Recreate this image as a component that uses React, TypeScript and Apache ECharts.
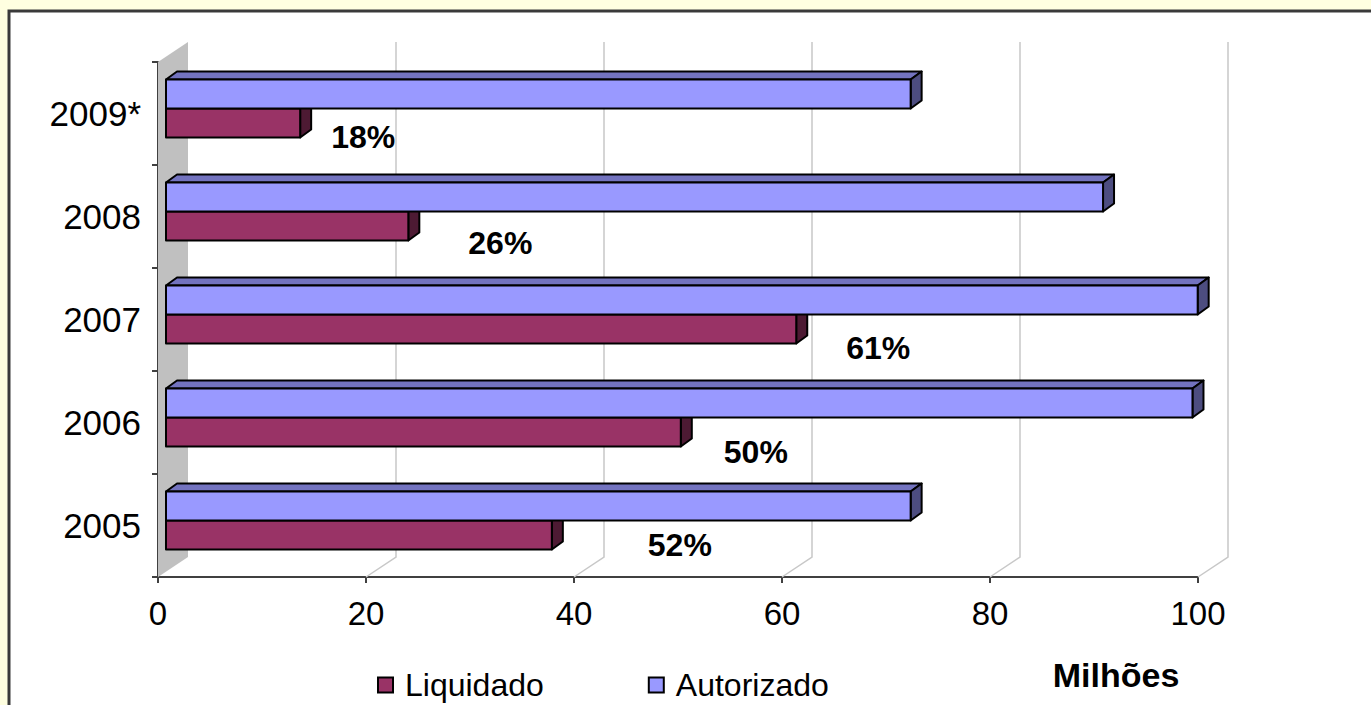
import React, { useEffect, useRef } from "react";
import * as echarts from "echarts";

const categories = ["2005", "2006", "2007", "2008", "2009*"];
const autorizado = [71.6, 98.7, 99.2, 90.1, 71.6];
const liquidado = [37.1, 49.5, 60.6, 23.3, 12.9];
const percentLabels = ["52%", "50%", "61%", "26%", "18%"];
const xTicks = [0, 20, 40, 60, 80, 100];

// styling / geometry (pixels)
const labelOffsets = [
  [128, 19.5],
  [75, 29.5],
  [82, 28.5],
  [92, 26.5],
  [63, 23.5],
];
const BAR_SHIFT = 8;
const TOP_DX = 11;
const TOP_DY = -8;
const WALL_DX = 30;
const WALL_DY = -20;
const FONT = "'Liberation Sans', Arial, sans-serif";

function barRenderer(kind: "aut" | "liq") {
  return (params: any, api: any) => {
    const cat = api.value(1);
    const v = api.value(0);
    const p0 = api.coord([0, cat]);
    const p1 = api.coord([v, cat]);
    const yc = p0[1];
    const x0 = p0[0] + BAR_SHIFT;
    const x1 = p1[0] + BAR_SHIFT;
    const top = kind === "aut" ? yc - 34 : yc - 5;
    const bot = kind === "aut" ? yc - 5 : yc + 24;
    const front = kind === "aut" ? "#9999FF" : "#993366";
    const topC = kind === "aut" ? "#7373BF" : "#73264D";
    const sideC = kind === "aut" ? "#4D4D80" : "#4D1A33";
    const stroke = { stroke: "#000", lineWidth: 2, lineJoin: "round" };
    const children: any[] = [
      {
        type: "polygon",
        shape: { points: [[x0, top], [x0 + TOP_DX, top + TOP_DY], [x1 + TOP_DX, top + TOP_DY], [x1, top]] },
        style: { fill: topC, ...stroke },
      },
      {
        type: "polygon",
        shape: { points: [[x1, top], [x1 + TOP_DX, top + TOP_DY], [x1 + TOP_DX, bot + TOP_DY], [x1, bot]] },
        style: { fill: sideC, ...stroke },
      },
      {
        type: "rect",
        shape: { x: x0, y: top, width: x1 - x0, height: bot - top },
        style: { fill: front, ...stroke },
      },
    ];
    if (kind === "liq") {
      const i = params.dataIndex;
      children.push({
        type: "text",
        x: x1 + labelOffsets[i][0],
        y: yc + labelOffsets[i][1],
        style: {
          text: percentLabels[i],
          fill: "#000",
          font: `bold 32px ${FONT}`,
          align: "center",
          verticalAlign: "middle",
        },
      });
    }
    return { type: "group", children };
  };
}

function gridRenderer(params: any, api: any) {
  const cs = params.coordSys;
  const v = api.value(0);
  const x = api.coord([v, 0])[0];
  const floorY = cs.y + cs.height;
  const topY = cs.y;
  if (v === 0) {
    return {
      type: "polygon",
      shape: {
        points: [
          [x, topY],
          [x + WALL_DX, topY + WALL_DY],
          [x + WALL_DX, floorY + WALL_DY],
          [x, floorY],
        ],
      },
      style: { fill: "#C0C0C0", stroke: "none" },
    };
  }
  return {
    type: "polyline",
    shape: {
      points: [
        [x, floorY],
        [x + WALL_DX, floorY + WALL_DY],
        [x + WALL_DX, topY + WALL_DY],
      ],
    },
    style: { stroke: "#C8C8C8", lineWidth: 1.5, fill: "none" },
  };
}

export default function App() {
  const ref = useRef<HTMLDivElement>(null);
  useEffect(() => {
    if (!ref.current) return;
    const chart = echarts.init(ref.current, null, { renderer: "svg" });
    chart.setOption({
      animation: false,
      backgroundColor: "#FFFFE0",
      graphic: [
        {
          type: "rect",
          z: -10,
          shape: { x: 9, y: 11, width: 1500, height: 900 },
          style: { fill: "#FFFFFF", stroke: "#3A3A3A", lineWidth: 3 },
        },
        {
          type: "text",
          x: 1116,
          y: 675,
          style: {
            text: "Milhões",
            font: `bold 34px ${FONT}`,
            fill: "#000",
            align: "center",
            verticalAlign: "middle",
          },
        },
      ],
      legend: {
        data: ["Liquidado", "Autorizado"],
        left: 372,
        top: 664,
        icon: "rect",
        itemWidth: 15,
        itemHeight: 15,
        itemGap: 104,
        itemStyle: { borderColor: "#000", borderWidth: 2 },
        textStyle: { fontSize: 32, color: "#000", fontFamily: FONT, padding: [0, 0, 0, 7] },
      },
      grid: { left: 158, right: 173, top: 62, bottom: 128, containLabel: false },
      xAxis: {
        type: "value",
        min: 0,
        max: 100,
        interval: 20,
        axisLine: { show: true, lineStyle: { color: "#404040", width: 2 } },
        axisTick: { show: true, length: 6, lineStyle: { color: "#404040", width: 2 } },
        splitLine: { show: false },
        axisLabel: { fontSize: 33, color: "#000", fontFamily: FONT, margin: 20 },
      },
      yAxis: {
        type: "category",
        data: categories,
        axisLine: { show: true, lineStyle: { color: "#404040", width: 2 } },
        axisTick: { show: true, length: 6, lineStyle: { color: "#404040", width: 2 } },
        axisLabel: { fontSize: 35, color: "#000", fontFamily: FONT, margin: 17 },
        splitLine: { show: false },
      },
      series: [
        {
          type: "custom",
          name: "grid3d",
          z: 1,
          clip: false,
          silent: true,
          renderItem: gridRenderer,
          data: xTicks.map((t) => [t, 0]),
        },
        {
          type: "custom",
          name: "Liquidado",
          z: 2,
          clip: false,
          itemStyle: { color: "#993366" },
          renderItem: barRenderer("liq"),
          data: liquidado.map((v, i) => [v, i]),
        },
        {
          type: "custom",
          name: "Autorizado",
          z: 3,
          clip: false,
          itemStyle: { color: "#9999FF" },
          renderItem: barRenderer("aut"),
          data: autorizado.map((v, i) => [v, i]),
        },
      ],
    });
    return () => chart.dispose();
  }, []);
  return (
    <div
      ref={ref}
      style={{ position: "absolute", left: 0, top: 0, width: 1371, height: 705 }}
    />
  );
}
